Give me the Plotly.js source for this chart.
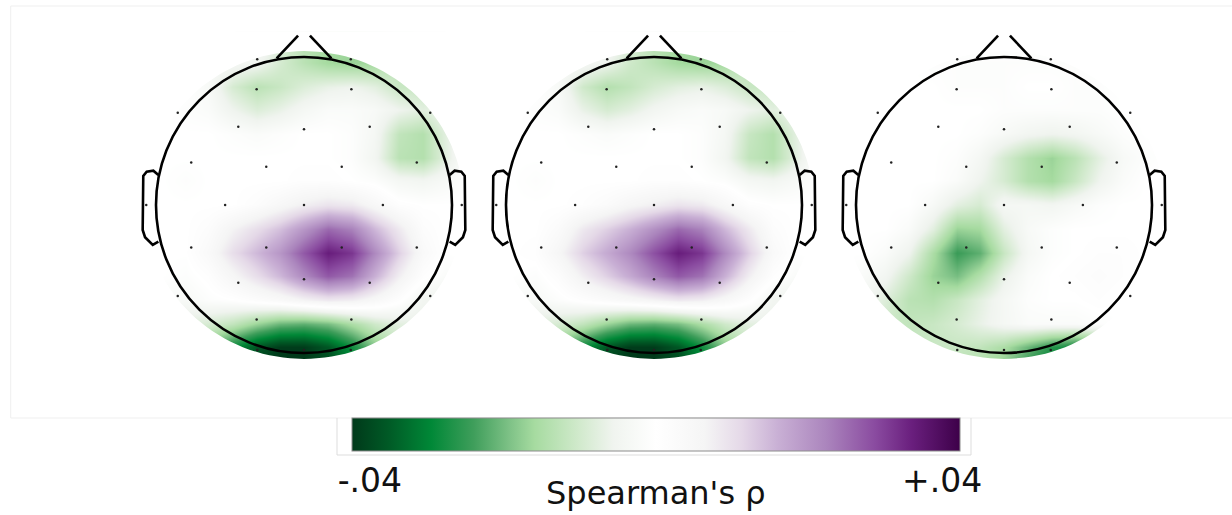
<!DOCTYPE html>
<html><head><meta charset="utf-8">
<script src="https://cdn.plot.ly/plotly-3.0.1.min.js"></script>
<style>html,body{margin:0;padding:0;background:#fff}#chart{width:1232px;height:515px}</style>
</head><body><div id="chart"></div><script>
// ---- data ----
// interpolation grid (head units, radius 1 = head outline)
const gridX = [-1.12,-0.96,-0.80,-0.64,-0.48,-0.32,-0.16,0,0.16,0.32,0.48,0.64,0.80,0.96,1.12];
const gridYTopDown = [1.12,0.96,0.80,0.64,0.48,0.32,0.16,0,-0.16,-0.32,-0.48,-0.64,-0.80,-0.96,-1.12];

// Biosemi 32 channel positions (head units)
const channels = ['Fp1','Fp2','AF3','AF4','F7','F8','F3','Fz','F4','FC5','FC6','FC1','FC2','T7','C3','Cz','C4','T8','CP5','CP1','CP2','CP6','P3','Pz','P4','P7','P8','PO3','PO4','O1','Oz','O2'];
const sensorX = [-0.316,0.316,-0.32,0.32,-0.853,0.853,-0.444,0,0.444,-0.762,0.762,-0.255,0.255,-1.066,-0.533,0,0.533,1.066,-0.762,-0.255,0.255,0.762,-0.444,0,0.444,-0.853,0.853,-0.32,0.32,-0.316,0,0.316];
const sensorY = [0.984,0.984,0.782,0.782,0.624,0.624,0.529,0.511,0.529,0.288,0.288,0.259,0.259,0,0,0,0,0,-0.288,-0.288,-0.288,-0.288,-0.525,-0.502,-0.525,-0.615,-0.615,-0.773,-0.773,-0.98,-0.98,-0.98];

// Spearman's rho x 1000, rows from front (top) to back (bottom)
const rhoMilliA = [
 [0,0,0,0,0,-2,-8,-14,-17,-18,-16,-10,-5,0,0],
 [0,0,-1,-2,-4,-5,-10,-14,-17,-18,-17,-13,-8,-3,0],
 [0,0,0,-3,-10,-14,-12,-9,-7,-6,-8,-12,-12,-6,0],
 [0,0,-1,-2,-6,-9,-7,-4,-2,-2,-3,-6,-8,-6,0],
 [0,0,0,0,-1,-2,-1,0,0,-1,-4,-13,-15,-8,0],
 [0,0,0,0,0,0,0,0,0,-1,-5,-14,-15,-8,0],
 [0,0,-1,0,0,0,0,1,1,0,-1,-4,-5,-3,0],
 [0,0,0,0,0,2,5,8,10,9,5,1,0,0,0],
 [0,0,0,2,7,11,15,21,27,24,16,9,2,0,0],
 [0,0,0,4,11,16,21,29,36,33,23,13,4,0,0],
 [0,0,-1,1,6,11,16,23,29,26,17,8,1,-2,0],
 [0,-2,-3,-1,0,2,4,7,9,8,5,1,-5,-6,0],
 [0,-3,-8,-10,-13,-18,-22,-23,-21,-16,-11,-8,-7,-4,0],
 [0,-5,-12,-20,-30,-38,-42,-42,-38,-30,-20,-12,-8,-4,0],
 [0,-3,-10,-20,-30,-40,-43,-43,-40,-32,-22,-12,-6,-2,0]
];
const rhoMilliB = [
 [0,0,0,0,0,-2,-8,-14,-17,-18,-16,-10,-5,0,0],
 [0,0,-1,-2,-4,-6,-11,-14,-17,-18,-17,-13,-8,-3,0],
 [0,0,0,-3,-11,-15,-13,-10,-8,-7,-9,-12,-12,-6,0],
 [0,0,-1,-2,-7,-10,-8,-5,-3,-2,-3,-6,-8,-6,0],
 [0,0,0,0,-1,-2,-1,0,0,-1,-4,-12,-15,-8,0],
 [0,0,0,0,0,0,0,0,0,-1,-5,-13,-15,-8,0],
 [0,0,-1,0,0,0,0,1,1,0,-1,-4,-5,-3,0],
 [0,0,0,0,1,3,6,8,10,9,5,1,0,0,0],
 [0,0,0,3,9,13,17,22,27,24,16,9,2,0,0],
 [0,0,1,6,13,18,23,30,36,33,23,13,4,0,0],
 [0,0,-1,2,8,13,18,24,29,26,17,8,1,-2,0],
 [0,-2,-3,-1,1,3,5,7,9,8,5,1,-5,-6,0],
 [0,-3,-8,-10,-13,-18,-22,-23,-21,-16,-11,-8,-7,-4,0],
 [0,-5,-12,-20,-30,-38,-42,-42,-38,-30,-20,-12,-8,-4,0],
 [0,-3,-10,-20,-30,-40,-43,-43,-40,-32,-22,-12,-6,-2,0]
];
const rhoMilliC = [
 [0,0,0,0,0,0,0,0,0,0,0,0,0,0,0],
 [0,0,0,0,-1,-1,-1,-1,-1,-1,-1,0,0,0,0],
 [0,0,0,0,0,-1,-1,-1,0,0,-1,-1,0,0,0],
 [0,0,0,0,0,0,0,-1,-1,-1,-1,-1,0,0,0],
 [0,0,0,0,0,0,-1,-3,-5,-6,-5,-3,-1,0,0],
 [0,0,0,0,0,-1,-4,-10,-15,-18,-14,-8,-3,-1,0],
 [0,0,0,0,0,-2,-6,-10,-15,-17,-12,-6,-2,0,0],
 [0,0,0,0,-3,-8,-10,-4,-4,-5,-3,-1,0,0,0],
 [0,0,0,-2,-8,-18,-17,-8,-3,-1,0,0,0,0,0],
 [0,0,-2,-6,-16,-26,-23,-12,-4,-1,0,1,1,0,0],
 [0,-2,-5,-11,-18,-21,-15,-7,-2,0,1,2,1,0,0],
 [0,-4,-9,-14,-15,-12,-8,-4,-1,0,0,1,0,0,0],
 [0,-6,-11,-13,-12,-10,-7,-4,-2,-2,-2,-1,0,0,0],
 [0,-5,-10,-12,-12,-12,-13,-16,-22,-28,-30,-24,-12,-4,0],
 [0,-3,-8,-10,-12,-14,-16,-20,-28,-35,-36,-28,-14,-4,0]
];
const maps = [rhoMilliA, rhoMilliB, rhoMilliC];
const tickVals = [-0.04, 0.04];
const tickLabels = ['-.04', '+.04'];
const colorbarTitle = "Spearman's ρ";

// ---- styling / layout ----
const W = 1232, H = 515;
const centersPx = [304, 654, 1004], cyPx = 205, rPx = 148;
const R = 1.17; // half axis range (head units)
const zLim = 0.0425;
const colorscale = [
 [0,'#00391a'],[0.06,'#005a26'],[0.13,'#008837'],[0.2,'#3f9e5b'],[0.26,'#7fc287'],
 [0.3,'#a6dba0'],[0.37,'#cfe9ca'],[0.43,'#f0f4ef'],[0.5,'#ffffff'],[0.58,'#f5f5f5'],
 [0.64,'#e5d9e8'],[0.7,'#c9b0d5'],[0.78,'#ab85bd'],[0.86,'#8a4ba0'],[0.92,'#6a1f7e'],[1,'#3d0049']
];
const font = 'DejaVu Sans, Verdana, sans-serif';

// white ring that hides the interpolation outside the head disc
function ringMask(rx, ry, o) {
  const xs = [-o, -o, o, o, -o, -o, -rx], ys = [0, -o, -o, o, o, 0, 0];
  const n = 144;
  for (let j = 1; j <= n; j++) {
    const t = Math.PI - 2 * Math.PI * j / n;
    xs.push(rx * Math.cos(t)); ys.push(ry * Math.sin(t));
  }
  xs.push(-o); ys.push(0);
  return {xs, ys};
}
const ring = ringMask(1.08, 1.04, 1.3);

const traces = [];
const layout = {
  width: W, height: H, margin: {l:0,r:0,t:0,b:0},
  paper_bgcolor: '#fff', plot_bgcolor: 'rgba(0,0,0,0)', showlegend: false,
  shapes: [], annotations: []
};
const halfPx = R * rPx;
const earL = [[-0.984,0.203],[-1.018,0.232],[-1.063,0.225],[-1.086,0.196],[-1.090,-0.169],[-1.074,-0.218],[-1.022,-0.270],[-0.984,-0.248]];
const earPath = s => 'M ' + earL.map(p => (s*p[0]) + ',' + p[1]).join(' L ');

maps.forEach((m, i) => {
  const k = i === 0 ? '' : String(i + 1);
  const xa = 'x' + k, ya = 'y' + k;
  const cx = centersPx[i];
  layout['xaxis' + k] = {domain: [(cx - halfPx) / W, (cx + halfPx) / W], range: [-R, R], visible: false, fixedrange: true, anchor: ya};
  layout['yaxis' + k] = {domain: [1 - (cyPx + halfPx) / H, 1 - (cyPx - halfPx) / H], range: [-R, R], visible: false, fixedrange: true, anchor: xa};
  const hm = {
    type: 'heatmap', x: gridX, y: gridYTopDown,
    z: m.map(row => row.map(v => v / 1000)),
    zmin: -zLim, zmax: zLim, colorscale: colorscale, zsmooth: 'best',
    xaxis: xa, yaxis: ya, hoverinfo: 'skip', showscale: i === 0
  };
  if (i === 0) {
    hm.colorbar = {
      orientation: 'h', x: 656 / W, xanchor: 'center', y: 1 - 418 / H, yanchor: 'top',
      len: 608 / W, lenmode: 'fraction', thickness: 33, thicknessmode: 'pixels',
      xpad: 0, ypad: 0, outlinewidth: 1, outlinecolor: '#8c8c8c', borderwidth: 0,
      tickvals: tickVals, ticktext: tickLabels, ticks: '',
      tickfont: {family: font, size: 33, color: '#111'}
    };
  }
  traces.push(hm);
  traces.push({
    type: 'scatter', mode: 'lines', x: ring.xs, y: ring.ys, xaxis: xa, yaxis: ya,
    fill: 'toself', fillcolor: '#ffffff', line: {width: 0, color: 'rgba(0,0,0,0)'}, hoverinfo: 'skip'
  });
  traces.push({
    type: 'scatter', mode: 'markers', x: sensorX, y: sensorY, text: channels,
    xaxis: xa, yaxis: ya, hoverinfo: 'text', cliponaxis: false,
    marker: {size: 2.5, color: '#222'}
  });
  // head outline, nose, ears
  const ln = {color: '#000', width: 2.6};
  layout.shapes.push({type: 'circle', xref: xa, yref: ya, x0: -1, x1: 1, y0: -1, y1: 1, line: ln, layer: 'above'});
  layout.shapes.push({type: 'line', xref: xa, yref: ya, x0: -0.185, y0: 0.99, x1: -0.04, y1: 1.145, line: ln, layer: 'above'});
  layout.shapes.push({type: 'line', xref: xa, yref: ya, x0: 0.185, y0: 0.99, x1: 0.04, y1: 1.145, line: ln, layer: 'above'});
  layout.shapes.push({type: 'path', xref: xa, yref: ya, path: earPath(1), line: ln, layer: 'above'});
  layout.shapes.push({type: 'path', xref: xa, yref: ya, path: earPath(-1), line: ln, layer: 'above'});
});
// colorbar title
layout.annotations.push({text: colorbarTitle, xref: 'paper', yref: 'paper', x: 656 / W, y: 1 - 493 / H,
  xanchor: 'center', yanchor: 'middle', showarrow: false, borderpad: 0,
  font: {family: font, size: 32, color: '#111'}});
// faint figure frame and colorbar frame
layout.shapes.push({type: 'rect', xref: 'paper', yref: 'paper', x0: 10.7 / W, x1: 1.02, y0: 1 - 418 / H, y1: 1 - 6 / H,
  line: {color: '#efefef', width: 1}, layer: 'below'});
layout.shapes.push({type: 'path', xref: 'paper', yref: 'paper',
  path: `M ${337/W},${1-418/H} L ${337/W},${1-455/H} L ${971/W},${1-455/H} L ${971/W},${1-418/H}`,
  line: {color: '#dddddd', width: 1}, layer: 'below'});

Plotly.newPlot('chart', traces, layout, {displayModeBar: false, staticPlot: true});
</script></body></html>
